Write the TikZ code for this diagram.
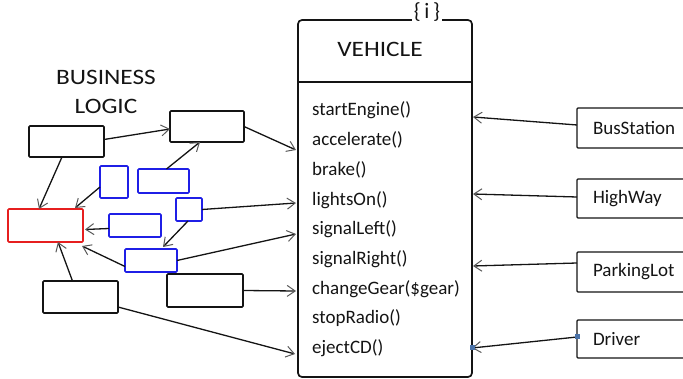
\documentclass[tikz,border=0pt]{standalone}
\usepackage{fontspec}
\setmainfont{Carlito}
\newfontfamily\capsfont[FakeStretch=1.15]{Carlito}
\usetikzlibrary{arrows.meta,calc}
\definecolor{ink}{HTML}{141414}
\definecolor{bbl}{HTML}{1F1FE6}
\definecolor{rrd}{HTML}{E61F1F}
\definecolor{pin}{HTML}{4A72A8}
\tikzset{
  bx/.style={draw=ink, line width=1.7pt, rounded corners=1pt, inner sep=0pt, outer sep=0pt},
  bluebox/.style={bx, draw=bbl},
  redbox/.style={bx, draw=rrd},
  arr/.style={draw=ink, line width=1.3pt, -{Straight Barb[length=8pt,width=11pt,line width=1pt,color=black!65]}},
  txt/.style={text=ink, font=\fontsize{19}{22}\selectfont, inner sep=0pt},
  headtxt/.style={text=ink, font=\capsfont\fontsize{22}{29}\selectfont, inner sep=0pt, align=center},
  rbox/.style={txt, bx, line width=1.4pt, inner xsep=16pt, inner ysep=0pt, text width=91pt, align=left},
  pinsq/.style={fill=pin, draw=none, minimum size=5pt, inner sep=0pt}
}
\begin{document}
\begin{tikzpicture}[x=1pt,y=-1pt]
\useasboundingbox (0,0) rectangle (683,379);
\clip (0,0) rectangle (683,379);
% left "business logic" cluster
\node[headtxt] (bl) at (106,91.5) {BUSINESS\\LOGIC};
\node[bx, minimum width=75pt, minimum height=31pt] (A) at (66.5,141.5) {};
\node[bx, minimum width=74pt, minimum height=31pt] (B) at (207,126.5) {};
\node[redbox, minimum width=75pt, minimum height=33pt] (R) at (45.5,225.5) {};
\node[bluebox, minimum width=28pt, minimum height=32pt] (b1) at (114,182) {};
\node[bluebox, minimum width=51pt, minimum height=24pt] (b2) at (163.5,181) {};
\node[bluebox, minimum width=26pt, minimum height=23pt] (b3) at (189,209.5) {};
\node[bluebox, minimum width=52pt, minimum height=23pt] (b4) at (135,225.5) {};
\node[bluebox, minimum width=52pt, minimum height=23pt] (b5) at (151,260.5) {};
\node[bx, minimum width=75pt, minimum height=32pt] (C) at (80.5,297) {};
\node[bx, minimum width=76pt, minimum height=33pt] (D) at (205,290.5) {};
% vehicle class
\node[bx, rounded corners=4pt, minimum width=174pt, minimum height=357pt] (V) at (385,198.5) {};
\node[txt, fill=white, inner xsep=2pt, font=\fontsize{22}{24}\selectfont] (vi) at (427,12) {\{\,i\,\}};
\node[headtxt] (vt) at (380,49) {VEHICLE};
\draw[ink, line width=1.5pt] ($(V.north west)+(0,62)$) -- ($(V.north east)+(0,62)$);
\foreach \t [count=\i from 0] in {startEngine(),accelerate(),brake(),lightsOn(),signalLeft(),signalRight(),changeGear(\$gear),stopRadio(),ejectCD()}{
  \node[txt, anchor=base west] (m\i) at (312,{116+29.7*\i}) {\t};
}
% right-hand classes
\node[rbox, minimum height=40pt] (S1) at (638.5,128) {BusStation};
\node[rbox, minimum height=39pt] (S2) at (638.5,198.5) {HighWay};
\node[rbox, minimum height=40pt] (S3) at (638.5,272) {ParkingLot};
\node[rbox, minimum height=38pt] (S4) at (638.5,339) {Driver};
% connectors, left side
\draw[arr] ([yshift=2pt]A.east) -- ([yshift=-2.5pt]B.west);
\draw[arr] ([xshift=-4.5pt]A.south) -- ([xshift=-6.5pt]R.north);
\draw[arr] (B.east) -- ($(V.north west)+(-2,130)$);
\draw[arr] ([xshift=3pt]b2.north) -- ([xshift=-7pt]B.south);
\draw[arr] ([yshift=-5pt]b1.west) -- ([xshift=-8pt,yshift=1pt]R.north east);
\draw[arr] ([yshift=-3pt]b4.west) -- ([yshift=-4pt,xshift=2pt]R.east);
\draw[arr] (b3.east) -- ($(V.north west)+(-2,183)$);
\draw[arr] ([xshift=-1pt]b3.south) -- ([xshift=-14pt,yshift=2pt]b5.north east);
\draw[arr] ([yshift=-6pt]b5.west) -- ([shift={(-1pt,-4pt)}]R.south east);
\draw[arr] (b5.east) -- ($(V.north west)+(-2,214)$);
\draw[arr] ([xshift=-8pt]C.north) -- ([xshift=12.5pt]R.south);
\draw[arr] (D.east) -- ($(V.north west)+(-2,271)$);
\draw[arr] ([yshift=-10pt]C.east) -- ($(V.north west)+(-3,334)$);
% connectors, right side
\draw[arr] ([yshift=3pt]S1.west) -- ($(V.north east)+(1,97)$);
\draw[arr] ([yshift=1.5pt]S2.west) -- ($(V.north east)+(1,174)$);
\draw[arr] ([yshift=9pt]S3.west) -- ($(V.north east)+(1,246)$);
\coordinate (dv) at ($(V.north east)+(0,328)$);
\draw[arr] ([yshift=2pt]S4.west) -- (dv);
\node[pinsq] (p1) at ([yshift=2pt]S4.west) {};
\node[pinsq] (p2) at (dv) {};
\end{tikzpicture}
\end{document}
